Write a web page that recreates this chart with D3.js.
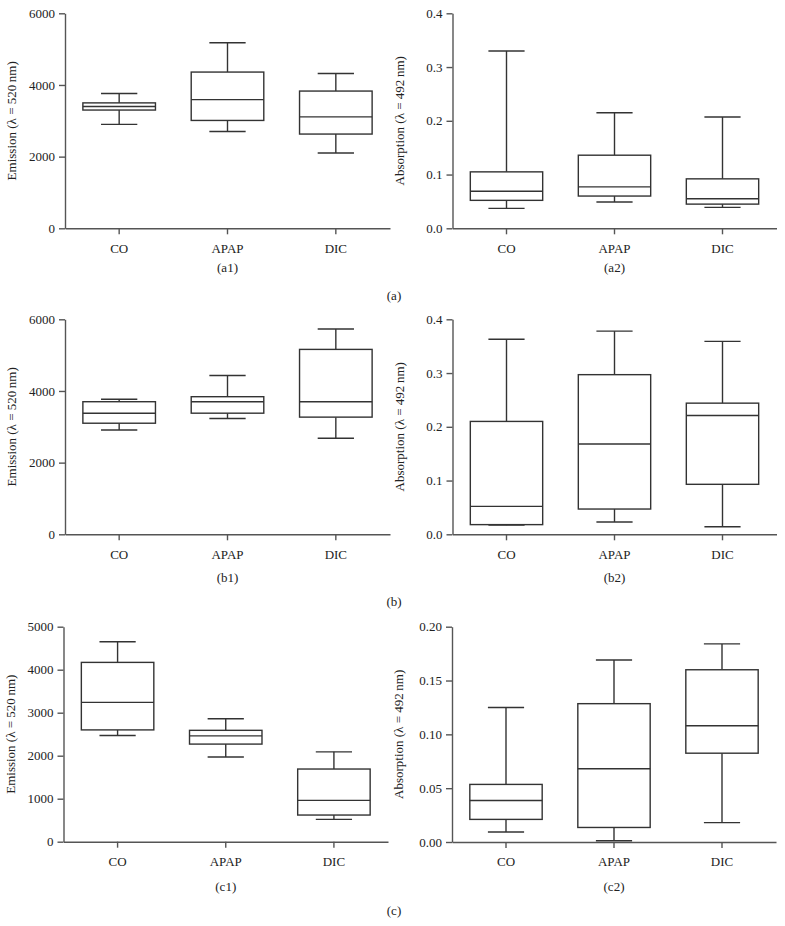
<!DOCTYPE html>
<html><head><meta charset="utf-8">
<script src="https://cdn.jsdelivr.net/npm/d3@7"></script>
<style>
body{margin:0;background:#fff;}
svg{display:block;}
text{font-family:"Liberation Serif","Times New Roman",serif;fill:#222;}
</style></head>
<body>
<svg id="chart" width="785" height="926"></svg>
<script>
// categories
const categories = ["CO", "APAP", "DIC"];
// each box: [lower whisker, Q1, median, Q3, upper whisker]
const a1 = [[2900, 3300, 3400, 3500, 3760], [2700, 3010, 3590, 4360, 5180], [2100, 2630, 3110, 3830, 4320]];
const a2 = [[0.037, 0.052, 0.069, 0.105, 0.330], [0.049, 0.060, 0.077, 0.136, 0.215], [0.039, 0.045, 0.055, 0.092, 0.207]];
const b1 = [[2910, 3100, 3380, 3700, 3770], [3230, 3380, 3700, 3840, 4430], [2680, 3270, 3700, 5160, 5730]];
const b2 = [[0.017, 0.018, 0.052, 0.210, 0.363], [0.023, 0.047, 0.168, 0.297, 0.378], [0.014, 0.093, 0.221, 0.244, 0.359]];
const c1 = [[2470, 2600, 3240, 4170, 4650], [1970, 2270, 2460, 2590, 2860], [520, 620, 960, 1690, 2090]];
const c2 = [[0.0093, 0.021, 0.0385, 0.0535, 0.125], [0.0012, 0.0135, 0.068, 0.1285, 0.169], [0.018, 0.0825, 0.108, 0.160, 0.184]];
// tick labels
const ticksEmission6000 = [0, 2000, 4000, 6000];
const ticksEmission5000 = [0, 1000, 2000, 3000, 4000, 5000];
const ticksAbs04 = [0.0, 0.1, 0.2, 0.3, 0.4];
const ticksAbs020 = [0.00, 0.05, 0.10, 0.15, 0.20];
const labelEmission = "Emission (\u03BB = 520\u2009nm)";
const labelAbsorption = "Absorption (\u03BB = 492\u2009nm)";

const svg = d3.select("#chart");
const stroke = "#333";

const panels = [
  {data: a1, max: 6000, ticks: ticksEmission6000, fmt: d3.format("d"), ylab: labelEmission, cap: "(a1)", x0: 65, x1: 390, top: 13.3, bot: 228.3, capY: 272},
  {data: a2, max: 0.4, ticks: ticksAbs04, fmt: d3.format(".1f"), ylab: labelAbsorption, cap: "(a2)", x0: 452.5, x1: 776.5, top: 13.3, bot: 228.3, capY: 272},
  {data: b1, max: 6000, ticks: ticksEmission6000, fmt: d3.format("d"), ylab: labelEmission, cap: "(b1)", x0: 65, x1: 390, top: 319.3, bot: 534.3, capY: 582},
  {data: b2, max: 0.4, ticks: ticksAbs04, fmt: d3.format(".1f"), ylab: labelAbsorption, cap: "(b2)", x0: 452.5, x1: 776.5, top: 319.3, bot: 534.3, capY: 582},
  {data: c1, max: 5000, ticks: ticksEmission5000, fmt: d3.format("d"), ylab: labelEmission, cap: "(c1)", x0: 63.5, x1: 388, top: 626.7, bot: 841.7, capY: 891},
  {data: c2, max: 0.2, ticks: ticksAbs020, fmt: d3.format(".2f"), ylab: labelAbsorption, cap: "(c2)", x0: 452, x1: 776, top: 626.7, bot: 842, capY: 891}
];

panels.forEach(p => {
  const g = svg.append("g");
  const x = d3.scaleBand().domain(categories).range([p.x0, p.x1]).paddingInner(0).paddingOuter(0);
  const y = d3.scaleLinear().domain([0, p.max]).range([p.bot, p.top]);

  const yAxis = g.append("g").attr("transform", `translate(${p.x0},0)`)
    .call(d3.axisLeft(y).tickValues(p.ticks).tickFormat(p.fmt).tickSize(6).tickSizeOuter(0).tickPadding(4));
  const xAxis = g.append("g").attr("transform", `translate(0,${p.bot})`)
    .call(d3.axisBottom(x).tickSize(6).tickSizeOuter(0).tickPadding(9));
  [yAxis, xAxis].forEach(a => {
    a.attr("font-family", null).attr("font-size", null);
    a.select(".domain").attr("stroke", "#555").attr("stroke-width", 1.4);
    a.selectAll(".tick line").attr("stroke", "#555").attr("stroke-width", 1.4);
    a.selectAll(".tick text").attr("font-size", 13).attr("fill", "#222");
  });

  const bw = x.bandwidth() * 0.67;
  const cw = bw * 0.5;
  p.data.forEach((d, i) => {
    const cx = x(categories[i]) + x.bandwidth() / 2;
    const bg = g.append("g").attr("stroke", stroke).attr("stroke-width", 1.4).attr("fill", "none");
    // whiskers
    bg.append("line").attr("x1", cx).attr("x2", cx).attr("y1", y(d[0])).attr("y2", y(d[1]));
    bg.append("line").attr("x1", cx).attr("x2", cx).attr("y1", y(d[3])).attr("y2", y(d[4]));
    bg.append("line").attr("x1", cx - cw / 2).attr("x2", cx + cw / 2).attr("y1", y(d[0])).attr("y2", y(d[0]));
    bg.append("line").attr("x1", cx - cw / 2).attr("x2", cx + cw / 2).attr("y1", y(d[4])).attr("y2", y(d[4]));
    // box
    bg.append("rect").attr("x", cx - bw / 2).attr("width", bw).attr("y", y(d[3])).attr("height", y(d[1]) - y(d[3])).attr("fill", "#fff");
    bg.append("line").attr("x1", cx - bw / 2).attr("x2", cx + bw / 2).attr("y1", y(d[2])).attr("y2", y(d[2]));
  });

  // y label
  const ym = (p.top + p.bot) / 2;
  g.append("text").attr("transform", `translate(${p.x0 - 49},${ym}) rotate(-90)`)
    .attr("text-anchor", "middle").attr("font-size", 13).text(p.ylab);
  // caption
  g.append("text").attr("x", x(categories[1]) + x.bandwidth() / 2).attr("y", p.capY)
    .attr("text-anchor", "middle").attr("font-size", 13).text(p.cap);
});

// row captions
const rowCaps = [{t: "(a)", y: 300}, {t: "(b)", y: 606}, {t: "(c)", y: 915}];
svg.selectAll("text.rowcap").data(rowCaps).enter().append("text").attr("class", "rowcap")
  .attr("x", 394).attr("y", d => d.y).attr("text-anchor", "middle").attr("font-size", 13).text(d => d.t);
</script>
</body></html>
